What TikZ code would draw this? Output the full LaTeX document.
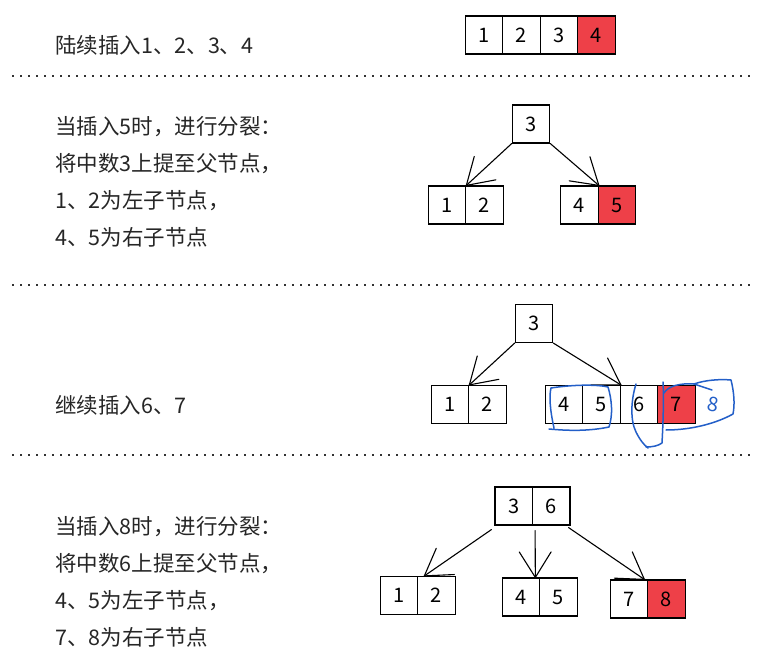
\documentclass[tikz,border=0pt]{standalone}
\usepackage{fontspec}
\setmainfont{Noto Sans CJK SC}
\newfontfamily\cjk{Noto Sans CJK SC}
\usetikzlibrary{calc}
\definecolor{keyred}{RGB}{238,64,72}
\definecolor{penblue}{RGB}{35,95,200}
\definecolor{dotgray}{RGB}{50,50,50}
\tikzset{
  cell/.style={draw, line width=1.2pt, minimum width=37.5pt, minimum height=38pt, inner sep=0pt, font=\fontsize{20}{20}\selectfont},
  hot/.style={cell, fill=keyred},
  note/.style={anchor=west, inner sep=0pt, font=\cjk\fontsize{21.5}{37}\selectfont, align=left, text=black!85},
  link/.style={line width=1.1pt, line cap=round},
  sep/.style={line width=2.2pt, dotgray, dash pattern=on 1.8pt off 6.2pt},
  scribble/.style={penblue, line width=1.5pt, line cap=round, line join=round}
}
% hand drawn open arrow from #1 to #2
\newcommand\handarrow[2]{%
  \draw[link] (#1) -- (#2);
  \draw[link] ($(#2)!30pt!32:(#1)$) -- (#2) -- ($(#2)!30pt!-32:(#1)$);}
\begin{document}
\begin{tikzpicture}[x=1pt,y=-1pt]
\useasboundingbox (0,0) rectangle (761,669);
\fill[white] (0,0) rectangle (761,669);

% separators
\coordinate (s1a) at (12,76); \coordinate (s1b) at (752,76);
\coordinate (s2a) at (12,285); \coordinate (s2b) at (752,285);
\coordinate (s3a) at (12,455); \coordinate (s3b) at (752,455);
\draw[sep] (s1a) -- (s1b);
\draw[sep] (s2a) -- (s2b);
\draw[sep] (s3a) -- (s3b);

% ---------- row 1 ----------
\node[note] (t1) at (55,45) {陆续插入1、2、3、4};
\node[cell] (a1) at (484,35) {1};
\node[cell] (a2) at (521.5,35) {2};
\node[cell] (a3) at (559,35) {3};
\node[hot]  (a4) at (596.5,35) {4};

% ---------- row 2 ----------
\node[note] (t2) at (55,182) {当插入5时，进行分裂：\\将中数3上提至父节点，\\1、2为左子节点，\\4、5为右子节点};
\node[cell] (r2) at (531,124) {3};
\node[cell] (l2a) at (447,205) {1};
\node[cell] (l2b) at (484.5,205) {2};
\node[cell] (q2a) at (579.5,205) {4};
\node[hot]  (q2b) at (617,205) {5};
\handarrow{r2.south west}{l2a.north east}
\handarrow{r2.south east}{q2a.north east}

% ---------- row 3 ----------
\node[note] (t3) at (55,405) {继续插入6、7};
\node[cell] (r3) at (534,323.5) {3};
\node[cell] (l3a) at (450,404.5) {1};
\node[cell] (l3b) at (487.5,404.5) {2};
\node[cell] (m3a) at (564,404.5) {4};
\node[cell] (m3b) at (601.5,404.5) {5};
\node[cell] (m3c) at (639,404.5) {6};
\node[hot]  (m3d) at (676.5,404.5) {7};
\handarrow{r3.south west}{l3a.north east}
\handarrow{r3.south east}{m3b.north east}
% blue pen annotations
\node[penblue, font=\fontsize{20}{20}\selectfont, rotate=-10] (b8) at (713,404) {8};
\draw[scribble] (554,428) .. controls (550,410) and (549,396) .. (551,388)
  .. controls (570,385) and (595,384) .. (608,387)
  .. controls (612,400) and (613,415) .. (609,427)
  .. controls (590,431) and (570,431) .. (549,429);
\draw[scribble] (636,384) .. controls (631,400) and (630,420) .. (636,432)
  .. controls (640,440) and (644,445) .. (648,448);
\draw[scribble] (663,382) .. controls (664,400) and (663,425) .. (662,443)
  .. controls (658,446) and (652,447) .. (646,447);
\draw[scribble] (664,393) .. controls (668,386) and (680,383) .. (694,384)
  .. controls (705,380) and (720,379) .. (731,380)
  .. controls (734,392) and (735,404) .. (733,414)
  .. controls (715,424) and (690,430) .. (666,430);
\draw[scribble] (694,384) .. controls (700,386) and (706,388) .. (712,390);

% ---------- row 4 ----------
\node[note] (t4) at (55,582) {当插入8时，进行分裂：\\将中数6上提至父节点，\\4、5为左子节点，\\7、8为右子节点};
\node[cell] (p1) at (513.75,506) {3};
\node[cell] (p2) at (551.25,506) {6};
\node[cell] (c1) at (399,595.5) {1};
\node[cell] (c2) at (436.5,595.5) {2};
\node[cell] (c3) at (521,597) {4};
\node[cell] (c4) at (558.5,597) {5};
\node[cell] (c5) at (629,599) {7};
\node[hot]  (c6) at (666.5,599) {8};
\coordinate (f1) at ([xshift=-3pt,yshift=-4pt]p1.south west);
\coordinate (e1) at ([xshift=6pt]c1.north east);
\coordinate (f2) at ([xshift=2pt,yshift=-5pt]p1.south east);
\coordinate (e2) at ([xshift=-5pt]c3.north east);
\coordinate (f3) at ([xshift=-2pt,yshift=-2pt]p2.south east);
\coordinate (e3) at ([xshift=-4pt]c5.north east);
\handarrow{f1}{e1}
\handarrow{f2}{e2}
\handarrow{f3}{e3}
\end{tikzpicture}
\end{document}
